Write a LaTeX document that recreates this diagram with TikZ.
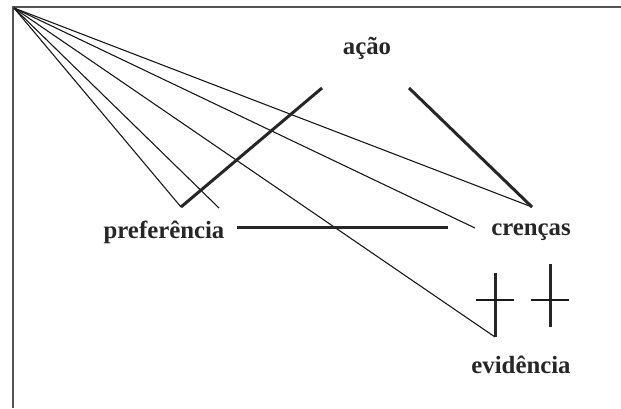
\documentclass[tikz,border=0pt]{standalone}
\usepackage{fontspec}
\setmainfont{Liberation Serif}
\definecolor{framegray}{HTML}{555555}
\begin{document}
\begin{tikzpicture}[x=0.5pt,y=-0.5pt,
  thin line/.style={line width=0.55pt,black!90},
  thick line/.style={line width=1.5pt,black!85},
  word/.style={font=\fontsize{12.4}{14}\selectfont\bfseries,text=black!85,inner sep=0pt}]
        \useasboundingbox (0,0) rectangle (621,408);
        \draw[framegray,line width=1pt] (13,408)--(13,7)--(621,7);
        \node[word] (acao) at (367,48) {ação};
        \node[word] (pref) at (164,232) {preferência};
        \node[word] (cren) at (531,232) {crenças};
        \node[word] (evid) at (521,365) {evidência};
        \coordinate (apex) at (14,8);
        \coordinate (pl) at (181,207);
        \coordinate (pr) at (219,208);
        \coordinate (al) at (322,88);
        \coordinate (ar) at (409,88);
        \coordinate (cl) at (475,228);
        \coordinate (ct) at (532,207);
        \coordinate (ht) at (495,273);
        \coordinate (hb) at (495,337);
        \coordinate (ft) at (550,264);
        \coordinate (fb) at (550,327);
        \coordinate (hl) at (476,300);
        \coordinate (hr) at (514,300);
        \coordinate (fl) at (531,300);
        \coordinate (fr) at (569,300);
        \coordinate (ml) at (237,227);
        \coordinate (mr) at (448,227);
        \draw[thin line] (apex)--(pl);
        \draw[thin line] (apex)--(pr);
        \draw[thin line] (apex)--(hb);
        \draw[thin line] (apex)--(cl);
        \draw[thin line] (apex)--(ct);
        \draw[thick line] (pl)--(al);
        \draw[thick line] (ar)--(ct);
        \draw[thick line] (ml)--(mr);
        \draw[thick line] (ht)--(hb);
        \draw[thick line] (ft)--(fb);
        \draw[thin line] (hl)--(hr);
        \draw[thin line] (fl)--(fr);
\end{tikzpicture}
\end{document}
